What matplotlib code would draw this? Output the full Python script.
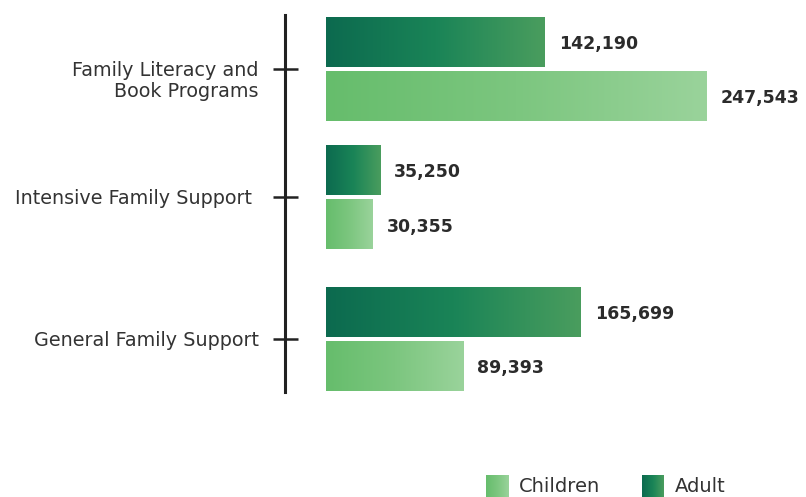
import numpy as np
import matplotlib
matplotlib.use("Agg")
import matplotlib.pyplot as plt
from matplotlib.colors import LinearSegmentedColormap

categories = ["Family Literacy and\nBook Programs", "Intensive Family Support ", "General Family Support"]
adult = [142190, 35250, 165699]
children = [247543, 30355, 89393]

plt.rcParams['font.family'] = ['DejaVu Sans']

adult_cmap = LinearSegmentedColormap.from_list("adult", ["#0c6a4f", "#1a8457", "#4a9d5e"])
child_cmap = LinearSegmentedColormap.from_list("child", ["#66bd6c", "#7cc67f", "#9ad39b"])

fig = plt.figure(figsize=(8.06, 4.97), dpi=100)
ax = fig.add_axes([285 / 806, 105 / 497, 1 - 285 / 806, 377 / 497])

ypos = [0, 0.95, 2.0]   # group centres (spacing in the original is uneven)
h = 0.37
off = 0.2
grad = np.linspace(0, 1, 256).reshape(1, -1)

for y, a, c in zip(ypos, adult, children):
    ya = y - off
    yc = y + off
    ax.imshow(grad, cmap=adult_cmap, aspect='auto', extent=[0, a, ya + h / 2, ya - h / 2], zorder=2)
    ax.imshow(grad, cmap=child_cmap, aspect='auto', extent=[0, c, yc + h / 2, yc - h / 2], zorder=2)
    ax.annotate(f"{a:,}", (a, ya), xytext=(10, -1.5), textcoords='offset points',
                va='center', ha='left', fontsize=12.5, fontweight='bold', color='#2b2b2b')
    ax.annotate(f"{c:,}", (c, yc), xytext=(10, -1.5), textcoords='offset points',
                va='center', ha='left', fontsize=12.5, fontweight='bold', color='#2b2b2b')

ax.set_xlim(-26700, 312000)
ax.set_ylim(2.39, -0.4)

for s in ['top', 'right', 'bottom']:
    ax.spines[s].set_visible(False)
ax.spines['left'].set_linewidth(2.2)
ax.spines['left'].set_color('#222222')
ax.set_xticks([])
ax.set_yticks(ypos)
ax.set_yticklabels([])
ax.tick_params(axis='y', direction='inout', length=18, width=1.8, color='#222222')

# category labels: first line of each label sits level with its tick
for y, lab in zip(ypos, categories):
    ax.annotate(lab, (0, y), xycoords=('axes fraction', 'data'), xytext=(-19, 6),
                textcoords='offset points', ha='right', va='top', fontsize=13.8,
                color='#333333', linespacing=1.15)

# legend with gradient swatches
for x0, cmap, label in [(486, child_cmap, "Children"), (642, adult_cmap, "Adult")]:
    lax = fig.add_axes([x0 / 806, 0 / 497, 22 / 806, 22 / 497])
    lax.imshow(grad, cmap=cmap, aspect='auto')
    lax.axis('off')
    fig.text((x0 + 33) / 806, 11 / 497, label, fontsize=14, color='#333333', va='center', ha='left')

fig.savefig("out.png", dpi=100)
